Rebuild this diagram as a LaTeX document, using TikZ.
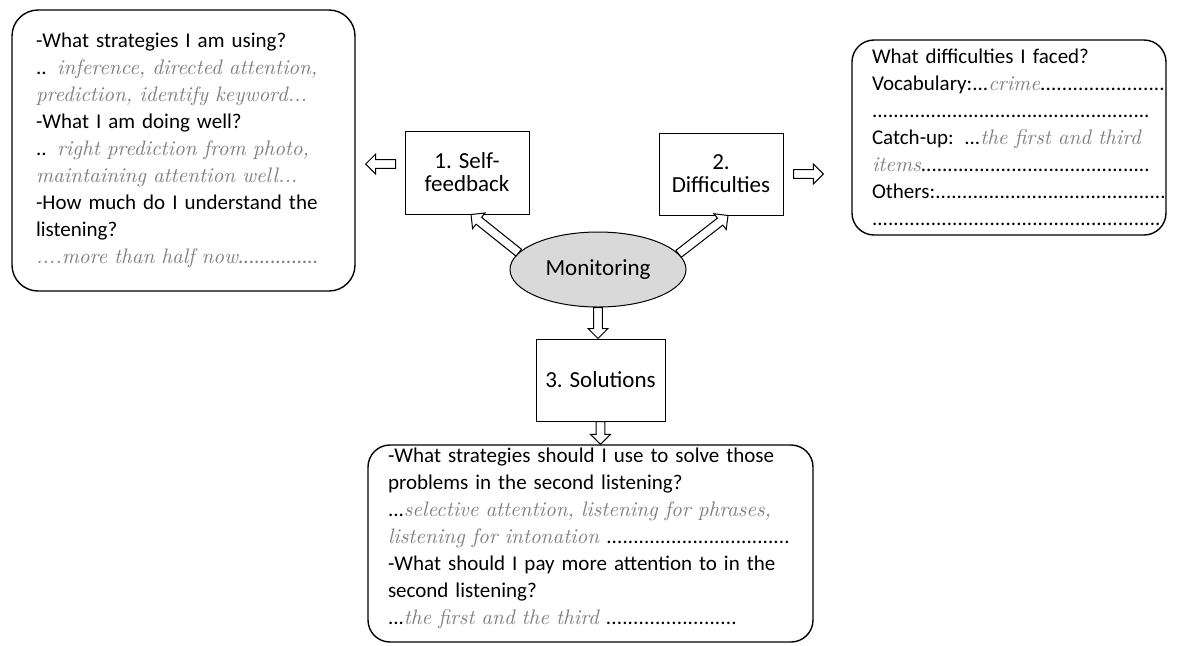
\documentclass[tikz,border=0pt]{standalone}
\usepackage{fontspec}
\setsansfont{Carlito}
\usepackage{tikz}
\usetikzlibrary{positioning,shapes.geometric,decorations.markings,calc}
\definecolor{handGray}{HTML}{7F7F7F}
\definecolor{monGray}{HTML}{D9D9D9}

% handwritten answers and dotted blanks
\newcommand{\hw}[1]{{\color{handGray}\rmfamily\itshape #1}}
\newcommand{\dotfil}{\xleaders\hbox{.}\hskip 0pt plus 1fill\relax}
\newcommand{\dotline}[2]{\noindent\hbox to #1{#2\dotfil}}

\begin{document}
\begin{tikzpicture}[x=0.5pt,y=-0.5pt,
    font=\sffamily\fontsize{10.5}{13.5}\selectfont,
    smallbox/.style={draw,line width=0.5pt,minimum width=62pt,minimum height=41.5pt,align=center,inner sep=1pt,
      font=\sffamily\fontsize{11.5}{11.5}\selectfont},
    qbox/.style={draw,line width=0.7pt,rounded corners=13pt,align=left,inner ysep=1pt},
    hollow/.style={postaction={decorate},decoration={markings,mark=at position 1 with {
        \pgfmathsetlengthmacro{\shaftlen}{\pgfdecoratedpathlength}
        \draw[line width=0.5pt,fill=white,line join=miter]
          (0,0) -- (-5pt,5pt) -- (-5pt,2.2pt) -- (-\shaftlen,2.2pt)
          -- (-\shaftlen,-2.2pt) -- (-5pt,-2.2pt) -- (-5pt,-5pt) -- cycle;}}}
  ]
  \useasboundingbox (0,0) rectangle (1179,645);

  % the three steps round the monitoring
  \node[draw,ellipse,fill=monGray,line width=0.5pt,minimum width=88pt,minimum height=37.5pt,inner sep=0pt,
    font=\sffamily\fontsize{11.5}{11.5}\selectfont] (mon) at (598,269.5) {Monitoring};
  \node[smallbox] (fb) at (467,172.5) {1. Self-\\feedback};
  \node[smallbox,minimum width=62pt,minimum height=41pt] (df) at (721,174) {2.\\Difficulties};
  \node[smallbox,minimum width=64.5pt,minimum height=41pt] (sol) at (600.5,380) {3. Solutions};

  % question boxes
  \node[qbox,minimum width=171.5pt,minimum height=140.5pt,text width=147.5pt,inner xsep=12pt] (fbq) at (183.5,150.5) {
    -What strategies I am using?\\
    .. \hw{inference, directed attention,}\\
    \hw{prediction, identify keyword...}\\
    -What I am doing well?\\
    .. \hw{right prediction from photo,}\\
    \hw{maintaining attention well...}\\
    -How much do I understand the\\
    listening?\\
    {\color{handGray}\dotline{141pt}{\hw{....more than half now}}}};
  \node[qbox,rounded corners=11pt,minimum width=157pt,minimum height=97.5pt,text width=137pt,inner xsep=10pt] (dfq) at (1009,137.5) {
    What difficulties I faced?\\
    \dotline{146.5pt}{Vocabulary:...\hw{crime}}\\
    \dotline{139pt}{}\\
    Catch-up: ...\hw{the first and third}\\
    \dotline{139pt}{\hw{items}}\\
    \dotline{147pt}{Others:}\\
    \dotline{144.5pt}{}};
  \node[qbox,rounded corners=11pt,minimum width=222.5pt,minimum height=98.5pt,text width=202.5pt,inner xsep=10pt,
    text depth=88pt] (slq) at (590.5,543.5) {
    -What strategies should I use to solve those\\
    problems in the second listening?\\
    ...\hw{selective attention, listening for phrases,}\\
    \dotline{201pt}{\hw{listening for intonation} }\\
    -What should I pay more attention to in the\\
    second listening?\\
    \dotline{174.5pt}{...\hw{the first and the third} }};

  % hollow arrows
  \path[hollow] ($(fb.west)+(-9,-8.5)$) -- ($(fbq.east)+(10,13.5)$);
  \path[hollow] ($(df.east)+(10,0)$) -- ($(dfq.west)+(-28,36.5)$);
  \path[hollow] (mon.168.5) -- ([xshift=2pt]fb.south);
  \path[hollow] (mon.11.4) -- ([xshift=3.5pt]df.south);
  \path[hollow] (mon.south) -- (mon.south |- sol.north);
  \path[hollow] (sol.south) -- (sol.south |- slq.north);
\end{tikzpicture}
\end{document}
